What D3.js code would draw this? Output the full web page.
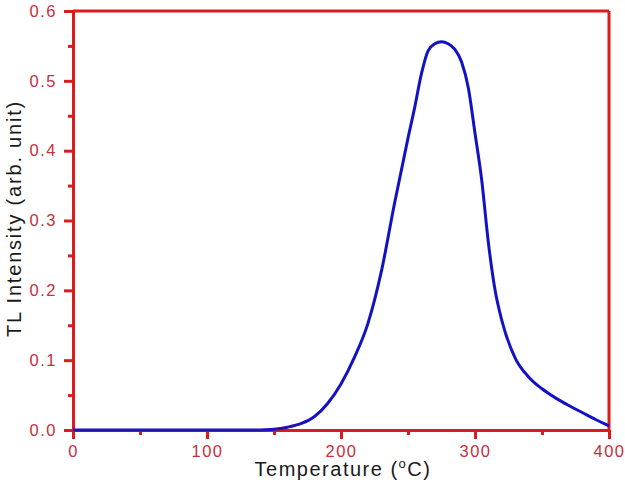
<!DOCTYPE html>
<html><head><meta charset="utf-8">
<script src="https://cdn.jsdelivr.net/npm/d3@7"></script>
<style>body{margin:0;background:#fff}svg{display:block}</style>
</head><body>
<script>
const temperature = [0, 100, 140, 150, 160, 170, 180, 190, 200, 210, 220, 230, 240, 250, 255, 260, 265, 270, 275, 280, 285, 290, 295, 300, 305, 310, 315, 320, 330, 340, 350, 360, 370, 380, 390, 400];
const intensity   = [0, 0, 0, 0.001, 0.004, 0.009, 0.019, 0.038, 0.066, 0.104, 0.152, 0.226, 0.325, 0.418, 0.462, 0.51, 0.543, 0.553, 0.556, 0.553, 0.545, 0.527, 0.49, 0.425, 0.358, 0.268, 0.2, 0.157, 0.103, 0.076, 0.059, 0.046, 0.035, 0.025, 0.015, 0.006];
const xTicks = [0, 100, 200, 300, 400];
const yTicks = [0.0, 0.1, 0.2, 0.3, 0.4, 0.5, 0.6];
const xMinor = [50, 150, 250, 350];
const yMinor = [0.05, 0.15, 0.25, 0.35, 0.45, 0.55];

const W = 625, H = 486;
const m = {left: 73, right: 16, top: 11, bottom: 56};
const svg = d3.select("body").append("svg").attr("width", W).attr("height", H);
const x = d3.scaleLinear().domain([0, 400]).range([m.left, W - m.right]);
const y = d3.scaleLinear().domain([0, 0.6]).range([H - m.bottom, m.top]);

const axisCol = "#dc1c1c", labCol = "#c4303c";
const font = "Arial, 'Liberation Sans', sans-serif";

const data = temperature.map((t, i) => [t, intensity[i]]);
const line = d3.line().x(d => x(d[0])).y(d => y(d[1])).curve(d3.curveMonotoneX);

// frame (top & right)
svg.append("line").attr("x1", x(0)).attr("x2", x(400)).attr("y1", y(0.6)).attr("y2", y(0.6))
  .attr("stroke", axisCol).attr("stroke-width", 3);
svg.append("line").attr("x1", x(400)).attr("x2", x(400)).attr("y1", y(0.6)).attr("y2", y(0))
  .attr("stroke", axisCol).attr("stroke-width", 3);

function styleAxis(g) {
  g.select(".domain").attr("stroke", axisCol).attr("stroke-width", 3);
  g.selectAll(".tick line").attr("stroke", axisCol).attr("stroke-width", 3);
  g.selectAll(".tick text").attr("fill", labCol).attr("font-family", font)
    .attr("font-size", 16.5).attr("letter-spacing", 1.5);
}

// minor ticks
svg.append("g").attr("transform", `translate(0,${y(0)})`)
  .call(d3.axisBottom(x).tickValues(xMinor).tickSize(5).tickFormat(""))
  .call(g => { g.select(".domain").remove(); g.selectAll(".tick line").attr("stroke", axisCol).attr("stroke-width", 3); });
svg.append("g").attr("transform", `translate(${x(0)},0)`)
  .call(d3.axisLeft(y).tickValues(yMinor).tickSize(5).tickFormat(""))
  .call(g => { g.select(".domain").remove(); g.selectAll(".tick line").attr("stroke", axisCol).attr("stroke-width", 3); });

// major axes
svg.append("g").attr("transform", `translate(0,${y(0)})`)
  .call(d3.axisBottom(x).tickValues(xTicks).tickSize(9).tickSizeOuter(0).tickPadding(6).tickFormat(d3.format("d")))
  .call(styleAxis);
svg.append("g").attr("transform", `translate(${x(0)},0)`)
  .call(d3.axisLeft(y).tickValues(yTicks).tickSize(9).tickSizeOuter(0).tickPadding(7).tickFormat(d3.format(".1f")))
  .call(styleAxis);

// curve
svg.append("path").datum(data)
  .attr("fill", "none").attr("stroke", "#1212c4").attr("stroke-width", 3)
  .attr("stroke-linejoin", "round").attr("d", line);
svg.append("path").datum(data.filter(d => d[0] <= 170))
  .attr("fill", "none").attr("stroke", "#2a10b0").attr("stroke-width", 2).attr("d", line);

// axis titles
const xt = svg.append("text").attr("x", (x(0) + x(400)) / 2 + 2).attr("y", 476)
  .attr("text-anchor", "middle").attr("font-family", font).attr("font-size", 20)
  .attr("fill", "#1a1a1a").attr("letter-spacing", 1.5);
xt.append("tspan").text("Temperature (");
xt.append("tspan").text("o").attr("font-size", 13).attr("dy", -8);
xt.append("tspan").text("C)").attr("dy", 8);

svg.append("text").attr("transform", `translate(21,${(y(0) + y(0.6)) / 2 - 2}) rotate(-90)`)
  .attr("text-anchor", "middle").attr("font-family", font).attr("font-size", 20)
  .attr("fill", "#1a1a1a").attr("letter-spacing", 1.8).text("TL Intensity (arb. unit)");
</script>
</body></html>
